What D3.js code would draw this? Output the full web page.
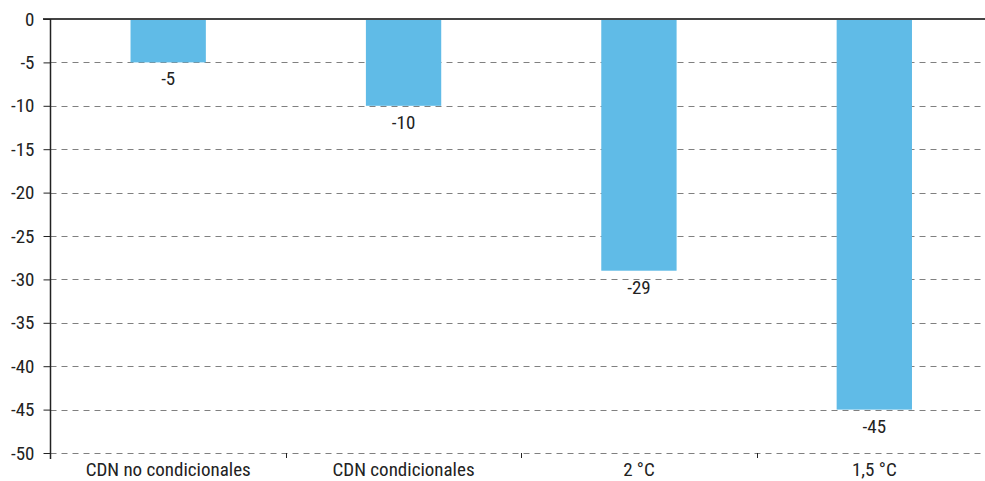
<!DOCTYPE html>
<html><head><meta charset="utf-8">
<script src="https://cdn.jsdelivr.net/npm/d3@7"></script>
<style>
body{margin:0;background:#fff;}
text{font-family:"Liberation Sans Narrow","Roboto Condensed","DejaVu Sans Condensed",sans-serif;fill:#222;}
</style></head>
<body>
<svg id="c" width="985" height="481"></svg>
<script>
const categories = ["CDN no condicionales","CDN condicionales","2 °C","1,5 °C"];
const values = [-5,-10,-29,-45];
const yTicks = [0,-5,-10,-15,-20,-25,-30,-35,-40,-45,-50];

(function(){
const svg = d3.select("#c");
const L = 50.5, R = 992, T = 19, B = 453;
const x = d3.scaleBand().domain(categories).range([L,R]).paddingInner(0.68).paddingOuter(0.34);
const xb = d3.scaleBand().domain(categories).range([L,R]);
const y = d3.scaleLinear().domain([0,-50]).range([T,B]);

svg.append("g").selectAll("line").data(yTicks.filter(d=>d!==0)).join("line")
  .attr("x1",L).attr("x2",985).attr("y1",d=>Math.round(y(d))+0.5).attr("y2",d=>Math.round(y(d))+0.5)
  .attr("stroke","#808080").attr("stroke-width",1).attr("stroke-dasharray","6,5");

svg.append("g").selectAll("rect").data(values).join("rect")
  .attr("x",(d,i)=>x(categories[i])).attr("width",x.bandwidth())
  .attr("y",y(0)).attr("height",d=>y(d)-y(0)).attr("fill","#60BBE7");

svg.append("g").selectAll("text").data(values).join("text")
  .attr("x",(d,i)=>x(categories[i])+x.bandwidth()/2).attr("y",d=>y(d)+23)
  .attr("text-anchor","middle").attr("font-size",19).text(d=>d);

svg.append("line").attr("x1",43).attr("x2",985).attr("y1",y(0)).attr("y2",y(0))
  .attr("stroke","#444").attr("stroke-width",2);

const ya = d3.axisLeft(y).tickValues(yTicks).tickSize(7).tickPadding(9).tickFormat(d=>d);
const yg = svg.append("g").attr("transform",`translate(${L},0)`).call(ya);
yg.select(".domain").attr("d",`M0,${T}V${B+6}`).attr("stroke","#222").attr("stroke-width",1.5);
yg.selectAll(".tick line").attr("stroke","#222");
yg.selectAll(".tick text").attr("font-size",19).attr("fill","#222").attr("font-family",null);

svg.append("g").selectAll("line").data(categories.slice(1)).join("line")
  .attr("x1",d=>Math.round(xb(d))+0.5).attr("x2",d=>Math.round(xb(d))+0.5)
  .attr("y1",B).attr("y2",B+5).attr("stroke","#222");

svg.append("g").selectAll("text").data(categories).join("text")
  .attr("x",d=>xb(d)+xb.bandwidth()/2).attr("y",476)
  .attr("text-anchor","middle").attr("font-size",19).text(d=>d);
})();
</script>
</body></html>
